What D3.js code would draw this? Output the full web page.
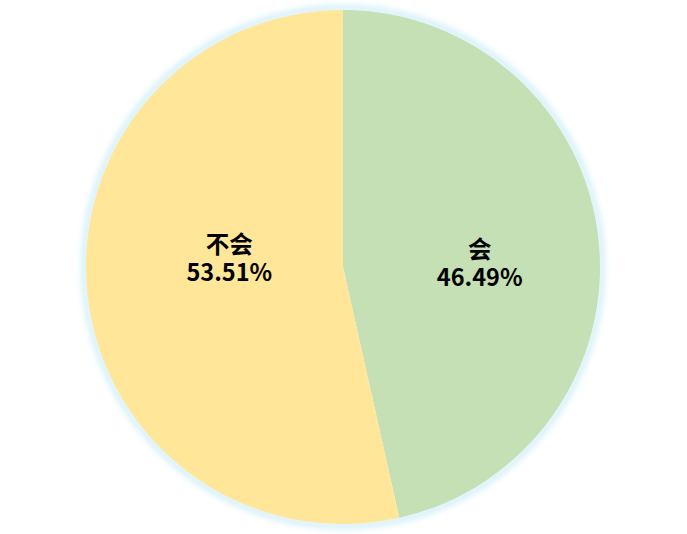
<!DOCTYPE html>
<html><head><meta charset="utf-8">
<script src="https://cdn.jsdelivr.net/npm/d3@7"></script>
<style>html,body{margin:0;padding:0;background:#fff;}svg{display:block;}</style>
</head><body>
<svg id="chart" width="687" height="534"></svg>
<script>
const categories = ["会", "不会"];
const values = [46.49, 53.51];
const colors = ["#C5E0B4", "#FFE699"];

const W = 687, H = 534, cx = 343, cy = 267, R = 257;
// label placement (layout constants): radius fraction and vertical nudge per slice
const labelR = [0.535, 0.445];
const labelDy = [12, -21];

const svg = d3.select("#chart");
const defs = svg.append("defs");
const f = defs.append("filter").attr("id", "glow").attr("x", "-10%").attr("y", "-10%").attr("width", "120%").attr("height", "120%");
f.append("feGaussianBlur").attr("stdDeviation", 3);

const g = svg.append("g").attr("transform", `translate(${cx},${cy})`);
g.append("circle").attr("r", R + 2).attr("fill", "none").attr("stroke", "#c9ecf8").attr("stroke-width", 5).attr("filter", "url(#glow)");

const pie = d3.pie().sort(null).value(d => d)(values);
const arc = d3.arc().innerRadius(0).outerRadius(R);
g.selectAll("path.slice").data(pie).enter().append("path")
  .attr("class", "slice").attr("d", arc).attr("fill", (d, i) => colors[i]);

pie.forEach((d, i) => {
  const la = d3.arc().innerRadius(R * labelR[i]).outerRadius(R * labelR[i]);
  const [x, y] = la.centroid(d);
  const t = g.append("text").attr("text-anchor", "middle")
    .attr("font-family", "'Noto Sans CJK SC', 'Noto Sans', sans-serif")
    .attr("font-weight", "bold").attr("font-size", 23.5).attr("fill", "#000");
  t.append("tspan").attr("x", x).attr("y", y + labelDy[i] - 6).text(categories[i]);
  t.append("tspan").attr("x", x).attr("y", y + labelDy[i] + 22).text(d3.format(".2f")(values[i]) + "%");
});
</script>
</body></html>
